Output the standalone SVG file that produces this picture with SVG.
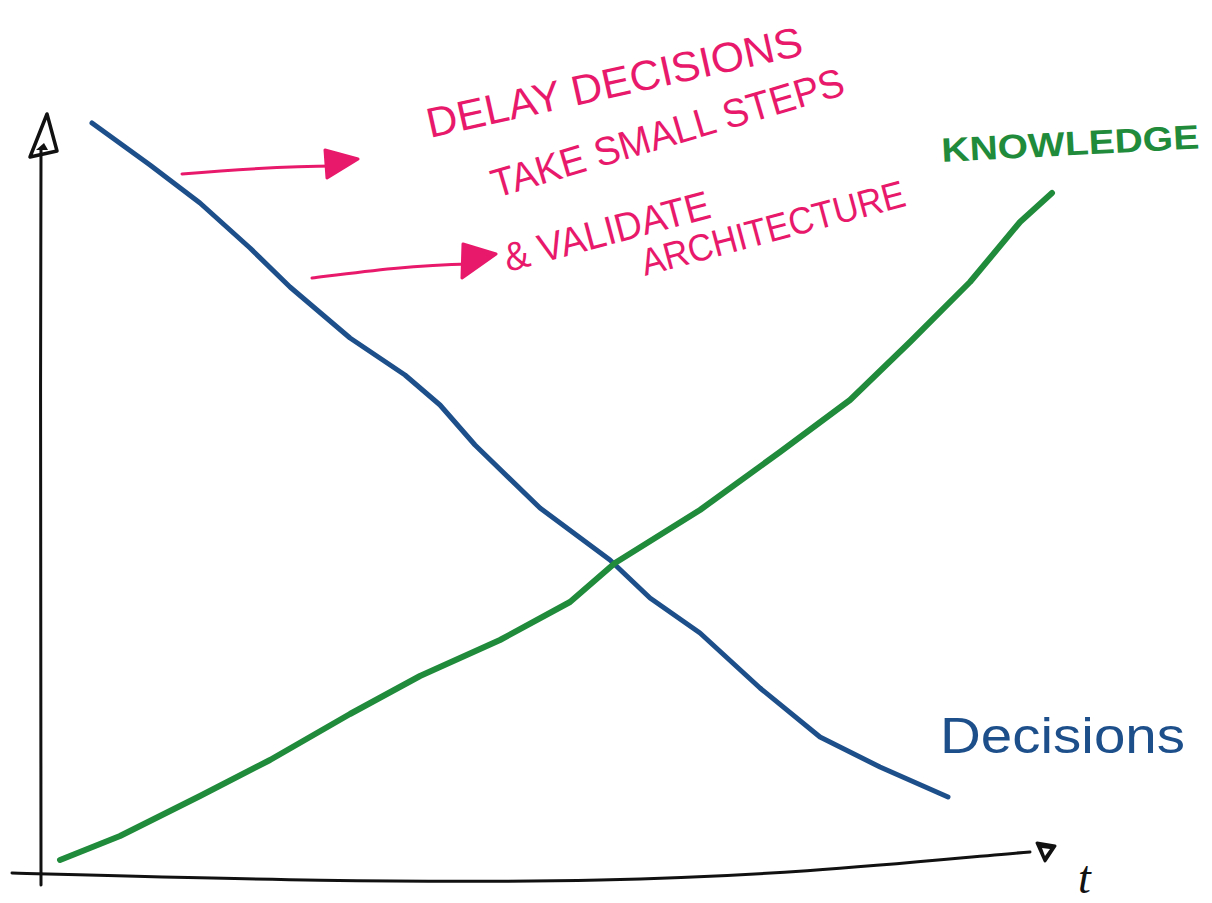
<svg xmlns="http://www.w3.org/2000/svg" width="1212" height="903" viewBox="0 0 1212 903">
<style>
.ax{fill:none;stroke:#111;stroke-width:3;stroke-linecap:round;stroke-linejoin:round}
.blue{fill:none;stroke:#1d4f8b;stroke-width:5;stroke-linecap:round;stroke-linejoin:round}
.green{fill:none;stroke:#1f8b3b;stroke-width:6;stroke-linecap:round;stroke-linejoin:round}
.pk{fill:none;stroke:#e8196b;stroke-width:3;stroke-linecap:round}
.pkhead{fill:#e8196b;stroke:#e8196b;stroke-width:3;stroke-linejoin:round}
.pt{fill:#e8196b;font-family:"Liberation Sans",sans-serif;font-weight:normal}
</style>
<rect width="1212" height="903" fill="#ffffff"/>
<g id="axes">
  <path class="ax" d="M41,885 C41,700 40,400 41,150"/>
  <path d="M47,114 L30,157 L57,151 Z" fill="none" stroke="#111" stroke-width="3.5" stroke-linejoin="round"/>
  <path d="M36,150 L44,143 L48,150 Z" fill="#111"/>
  <path class="ax" d="M12,873 C200,878 400,884 600,880 C800,876 950,858 1030,852"/>
  <path d="M1037,843 L1055,846 L1045,861 Z" fill="#111" stroke="#111" stroke-width="3" stroke-linejoin="round"/>
  <path d="M1042,848 L1050,849 L1045,856 Z" fill="#fff"/>
  <text x="1078" y="893" font-family="Liberation Serif,serif" font-style="italic" font-size="46" fill="#111">t</text>
</g>
<g id="connectors">
  <path class="blue" d="M92,123 L150,165 L200,203 L250,248 L290,287 L350,338 L405,375 L440,405 L475,445 L540,508 L610,560 L650,598 L700,633 L760,688 L820,737 L880,767 L948,797"/>
  <path class="green" d="M60,860 L120,836 L200,796 L270,760 L350,714 L420,676 L500,640 L570,602 L615,563 L700,510 L780,452 L850,400 L910,342 L970,282 L1020,222 L1052,193"/>
  <g id="arrow1">
    <path class="pk" d="M182,174 C230,170 280,166 335,166"/>
    <path class="pkhead" d="M325,150 L358,159 L327,178 Z"/>
  </g>
  <g id="arrow2">
    <path class="pk" d="M312,278 C360,272 410,265 470,264"/>
    <path class="pkhead" d="M463,244 L496,254 L462,278 Z"/>
  </g>
</g>
<g id="notes">
  <text class="pt" x="430" y="138" font-size="42" textLength="384" lengthAdjust="spacingAndGlyphs" transform="rotate(-12.5 430 138)">DELAY DECISIONS</text>
  <text class="pt" x="496" y="198" font-size="40" textLength="366" lengthAdjust="spacingAndGlyphs" transform="rotate(-16.5 496 198)">TAKE SMALL STEPS</text>
  <text class="pt" x="508" y="272" font-size="40" textLength="212" lengthAdjust="spacingAndGlyphs" transform="rotate(-15 508 272)">&amp; VALIDATE</text>
  <text class="pt" x="645" y="276" font-size="38" textLength="272" lengthAdjust="spacingAndGlyphs" transform="rotate(-15 645 276)">ARCHITECTURE</text>
</g>
<g id="knowledge">
  <text x="942" y="162" font-family="Liberation Sans,sans-serif" font-weight="bold" font-size="34" fill="#1f8b3b" textLength="258" lengthAdjust="spacingAndGlyphs" transform="rotate(-3 942 162)">KNOWLEDGE</text>
</g>
<g id="decisions">
  <text x="940" y="753" font-family="Liberation Sans,sans-serif" font-size="50" fill="#1d4f8b" textLength="245" lengthAdjust="spacingAndGlyphs">Decisions</text>
</g>
</svg>
